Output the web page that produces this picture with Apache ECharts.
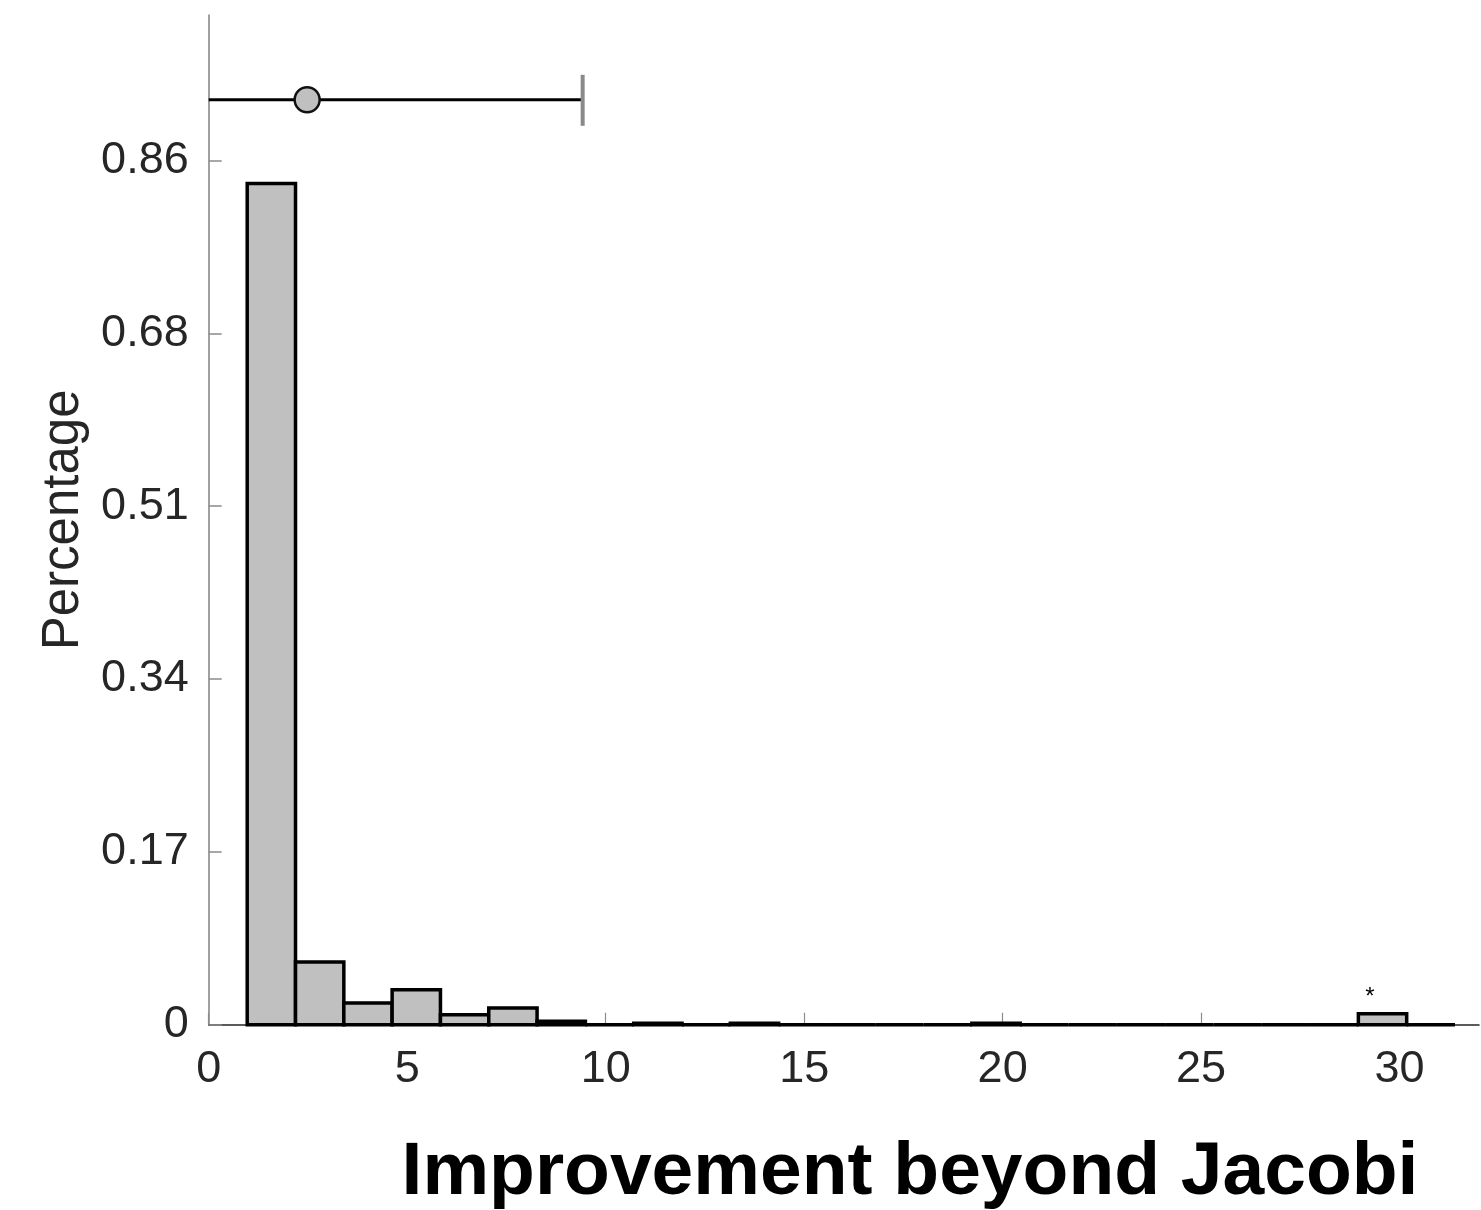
<!DOCTYPE html>
<html>
<head>
<meta charset="utf-8">
<title>Improvement beyond Jacobi</title>
<script src="https://cdn.jsdelivr.net/npm/echarts@6/dist/echarts.min.js"></script>
<style>
  html, body { margin: 0; padding: 0; background: #ffffff; }
  #chart { width: 1481px; height: 1210px; }
</style>
</head>
<body>
<div id="chart"></div>
<script>
// ---- data ----
const binEdges = [0.970, 2.187, 3.404, 4.621, 5.838, 7.055, 8.272, 9.489, 10.706, 11.923,
                  13.140, 14.357, 15.574, 16.791, 18.008, 19.225, 20.442, 21.659, 22.876,
                  24.093, 25.310, 26.527, 27.744, 28.961, 30.178, 31.395];
const binValues = [0.833, 0.062, 0.0215, 0.0347, 0.0099, 0.0165, 0.0035, 0, 0.0015, 0,
                   0.0015, 0, 0, 0, 0, 0.0015, 0, 0, 0, 0, 0, 0, 0, 0.0109, 0];
const outlierMarks = [[29.25, 0.033]];
const errorBar = [[0, 2.48, 9.42, 0.916]]; // [low, mean, high, y]
const xTickValues = [0, 5, 10, 15, 20, 25, 30];
const xTickLabels = ['0', '5', '10', '15', '20', '25', '30'];
const yTickValues = [0, 0.1712, 0.3424, 0.5136, 0.6848, 0.856];
const yTickLabels = ['0', '0.17', '0.34', '0.51', '0.68', '0.86'];
const xTitle = 'Improvement beyond Jacobi';
const yTitle = 'Percentage';

const binData = binValues.map((v, i) => [binEdges[i], binEdges[i + 1], v]);
const FONT = '"Liberation Sans", Arial, Helvetica, sans-serif';

function labelFor(values, labels) {
  return function (val) {
    let best = 0, d = Infinity;
    values.forEach((t, i) => { const dd = Math.abs(t - val); if (dd < d) { d = dd; best = i; } });
    return labels[best];
  };
}

const chart = echarts.init(document.getElementById('chart'), null, { renderer: 'canvas' });
chart.setOption({
  backgroundColor: '#ffffff',
  animation: false,
  grid: { left: 208.7, right: 2, top: 15, bottom: 185.3, containLabel: false },
  xAxis: {
    type: 'value', min: 0, max: 32,
    axisLine: { show: true, lineStyle: { color: '#262626', width: 1.5 } },
    axisTick: { show: true, inside: true, length: 12, customValues: xTickValues,
                lineStyle: { color: '#8a8a8a', width: 1.2 } },
    axisLabel: { show: true, customValues: xTickValues, margin: 22,
                 formatter: labelFor(xTickValues, xTickLabels),
                 fontFamily: FONT, fontSize: 45, color: '#262626' },
    splitLine: { show: false }
  },
  yAxis: {
    type: 'value', min: 0, max: 1.0,
    name: yTitle, nameLocation: 'middle', nameGap: 119,
    nameTextStyle: { fontFamily: FONT, fontSize: 51, color: '#262626' },
    axisLine: { show: true, lineStyle: { color: '#808080', width: 1.5 } },
    axisTick: { show: true, inside: true, length: 13, customValues: yTickValues,
                lineStyle: { color: '#8a8a8a', width: 1.5 } },
    axisLabel: { show: true, customValues: yTickValues, margin: 20,
                 padding: [8, 0, 0, 0],
                 formatter: labelFor(yTickValues, yTickLabels),
                 fontFamily: FONT, fontSize: 45, color: '#262626' },
    splitLine: { show: false }
  },
  graphic: [{
    type: 'text', x: 910, y: 1173,
    style: { text: xTitle, x: 0, y: 0, align: 'center', verticalAlign: 'middle',
             font: 'bold 75px ' + FONT, fill: '#000000' }
  }],
  series: [
    {
      type: 'custom',
      name: 'histogram',
      data: binData,
      clip: false,
      renderItem: function (params, api) {
        const x0 = api.value(0), x1 = api.value(1), v = api.value(2);
        const a = api.coord([x0, 0]), b = api.coord([x1, v]);
        return {
          type: 'polygon',
          shape: { points: [[a[0], a[1]], [b[0], a[1]], [b[0], b[1]], [a[0], b[1]]] },
          style: { fill: '#c0c0c0', stroke: '#000000', lineWidth: 3.5 }
        };
      }
    },
    {
      type: 'custom',
      name: 'outliers',
      data: outlierMarks,
      renderItem: function (params, api) {
        const p = api.coord([api.value(0), api.value(1)]);
        return {
          type: 'text',
          style: { text: '*', x: p[0], y: p[1] + 6, align: 'center', verticalAlign: 'middle',
                   font: '24px ' + FONT, fill: '#000000' }
        };
      }
    },
    {
      type: 'custom',
      name: 'errorbar',
      data: errorBar,
      clip: false,
      renderItem: function (params, api) {
        const y = api.value(3);
        const lo = api.coord([api.value(0), y]);
        const mid = api.coord([api.value(1), y]);
        const hi = api.coord([api.value(2), y]);
        return {
          type: 'group',
          children: [
            { type: 'line', shape: { x1: lo[0], y1: lo[1], x2: hi[0], y2: hi[1] },
              style: { stroke: '#000000', lineWidth: 3 } },
            { type: 'line', shape: { x1: hi[0], y1: hi[1] - 25, x2: hi[0], y2: hi[1] + 26 },
              style: { stroke: '#8a8a8a', lineWidth: 4 } },
            { type: 'circle', shape: { cx: mid[0], cy: mid[1], r: 12.5 },
              style: { fill: '#c0c0c0', stroke: '#111111', lineWidth: 2.5 } }
          ]
        };
      }
    }
  ]
});
</script>
</body>
</html>
